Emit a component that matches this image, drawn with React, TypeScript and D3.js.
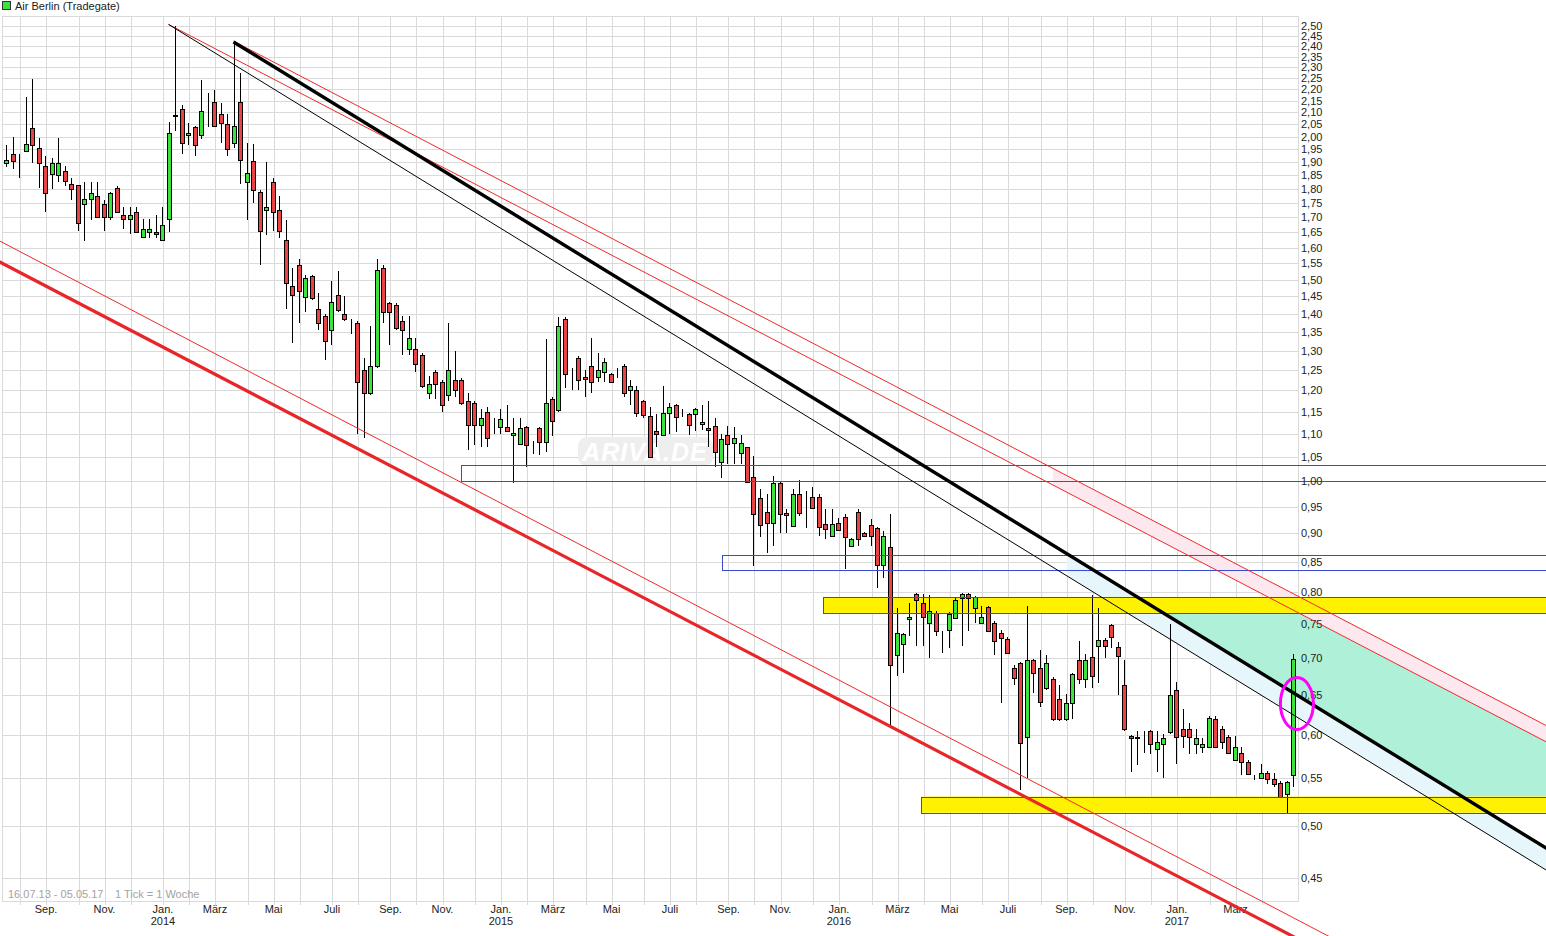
import React from 'react';
import * as d3 from 'd3';

const W = 1546;
const H = 936;

// first weekly candle: week of Monday 15.07.2013 (weekly ticks)
const firstWeekUTC = Date.UTC(2013, 6, 15);
const weekMs = 7 * 864e5;

const open = [
  1.895, 1.93, 1.925, 1.945, 2.035, 1.955, 1.885, 1.855, 1.85, 1.865,
  1.82, 1.815, 1.745, 1.765, 1.775, 1.745, 1.70, 1.805, 1.71, 1.695,
  1.72, 1.635, 1.65, 1.652, 1.625, 1.695, 2.09, 2.115, 2.005, 2.04,
  2.005, 2.145, 2.145, 2.095, 2.05, 1.975, 2.145, 1.825, 1.905, 1.79,
  1.725, 1.825, 1.725, 1.625, 1.48, 1.545, 1.447, 1.51, 1.415, 1.395,
  1.355, 1.455, 1.40, 1.375, 1.375, 1.25, 1.195, 1.26, 1.535, 1.43,
  1.425, 1.38, 1.305, 1.305, 1.29, 1.195, 1.245, 1.22, 1.19, 1.225,
  1.225, 1.175, 1.17, 1.12, 1.15, 1.13, 1.115, 1.115, 1.098, 1.078,
  1.115, 1.078, 1.112, 1.082, 1.18, 1.153, 1.385, 1.245, 1.28, 1.233,
  1.26, 1.233, 1.245, 1.24, 1.245, 1.26, 1.20, 1.20, 1.175, 1.14,
  1.105, 1.098, 1.148, 1.165, 1.145, 1.145, 1.145, 1.122, 1.113, 1.117,
  1.04, 1.098, 1.08, 1.058, 1.07, 1.009, 0.967, 0.94, 0.92, 0.997,
  0.938, 0.913, 0.975, 0.967, 0.969, 0.969, 0.918, 0.895, 0.92, 0.93,
  0.878, 0.94, 0.90, 0.915, 0.91, 0.844, 0.875, 0.705, 0.72, 0.757,
  0.797, 0.782, 0.752, 0.767, 0.732, 0.741, 0.759, 0.79, 0.796, 0.774,
  0.752, 0.776, 0.752, 0.737, 0.728, 0.687, 0.693, 0.598, 0.697, 0.687,
  0.659, 0.672, 0.645, 0.619, 0.64, 0.698, 0.672, 0.702, 0.717, 0.727,
  0.748, 0.716, 0.663, 0.599, 0.596, 0.598, 0.605, 0.583, 0.589, 0.603,
  0.657, 0.607, 0.607, 0.589, 0.585, 0.586, 0.62, 0.607, 0.598, 0.571,
  0.579, 0.568, 0.55, 0.55, 0.556, 0.549, 0.545, 0.533, 0.554,
];

const high = [
  1.965, 2.00, 1.93, 2.165, 2.245, 1.995, 1.925, 1.915, 1.995, 1.885,
  1.84, 1.815, 1.825, 1.825, 1.825, 1.76, 1.79, 1.81, 1.735, 1.735,
  1.735, 1.695, 1.695, 1.71, 1.735, 2.06, 2.50, 2.13, 2.055, 2.045,
  2.24, 2.185, 2.195, 2.14, 2.093, 2.42, 2.275, 1.975, 1.97, 1.795,
  1.90, 1.84, 1.775, 1.69, 1.535, 1.565, 1.515, 1.515, 1.46, 1.40,
  1.495, 1.525, 1.45, 1.385, 1.38, 1.28, 1.365, 1.565, 1.545, 1.435,
  1.43, 1.395, 1.395, 1.335, 1.295, 1.235, 1.25, 1.225, 1.375, 1.30,
  1.23, 1.195, 1.175, 1.155, 1.16, 1.135, 1.155, 1.165, 1.135, 1.135,
  1.118, 1.085, 1.115, 1.33, 1.185, 1.39, 1.39, 1.255, 1.285, 1.25,
  1.335, 1.295, 1.28, 1.243, 1.255, 1.265, 1.225, 1.212, 1.178, 1.16,
  1.145, 1.212, 1.17, 1.168, 1.157, 1.148, 1.158, 1.165, 1.175, 1.135,
  1.10, 1.118, 1.115, 1.098, 1.072, 1.052, 0.985, 0.975, 1.01, 1.0,
  0.946, 0.985, 1.003, 0.98, 0.988, 0.975, 0.946, 0.946, 0.928, 0.935,
  0.891, 0.946, 0.902, 0.926, 0.912, 0.905, 0.935, 0.774, 0.737, 0.783,
  0.799, 0.797, 0.795, 0.77, 0.739, 0.768, 0.792, 0.798, 0.798, 0.793,
  0.777, 0.778, 0.754, 0.741, 0.73, 0.69, 0.695, 0.777, 0.699, 0.712,
  0.705, 0.674, 0.664, 0.652, 0.68, 0.725, 0.706, 0.795, 0.774, 0.729,
  0.75, 0.723, 0.697, 0.60, 0.605, 0.605, 0.606, 0.605, 0.601, 0.75,
  0.668, 0.632, 0.615, 0.607, 0.596, 0.623, 0.623, 0.611, 0.60, 0.599,
  0.585, 0.57, 0.553, 0.566, 0.558, 0.556, 0.547, 0.547, 0.706,
];

const low = [
  1.88, 1.875, 1.84, 1.945, 1.895, 1.805, 1.72, 1.80, 1.825, 1.81,
  1.76, 1.655, 1.62, 1.69, 1.70, 1.655, 1.69, 1.715, 1.66, 1.645,
  1.648, 1.633, 1.63, 1.63, 1.622, 1.65, 2.025, 1.93, 1.965, 1.925,
  1.99, 2.04, 2.04, 1.975, 1.925, 1.955, 1.82, 1.69, 1.75, 1.545,
  1.64, 1.655, 1.63, 1.415, 1.32, 1.375, 1.405, 1.44, 1.355, 1.275,
  1.315, 1.405, 1.38, 1.345, 1.10, 1.09, 1.19, 1.255, 1.375, 1.315,
  1.355, 1.29, 1.29, 1.245, 1.205, 1.18, 1.18, 1.15, 1.175, 1.185,
  1.165, 1.065, 1.075, 1.07, 1.07, 1.10, 1.10, 1.103, 0.997, 1.075,
  1.028, 1.057, 1.053, 1.06, 1.095, 1.15, 1.205, 1.20, 1.20, 1.185,
  1.195, 1.22, 1.22, 1.218, 1.23, 1.185, 1.165, 1.137, 1.135, 1.048,
  1.072, 1.096, 1.10, 1.103, 1.137, 1.098, 1.105, 1.108, 1.07, 1.028,
  1.007, 1.036, 1.036, 1.036, 0.997, 0.843, 0.893, 0.865, 0.878, 0.90,
  0.90, 0.912, 0.932, 0.91, 0.946, 0.896, 0.89, 0.893, 0.905, 0.837,
  0.877, 0.878, 0.894, 0.878, 0.806, 0.822, 0.61, 0.676, 0.68, 0.732,
  0.718, 0.718, 0.701, 0.732, 0.708, 0.714, 0.758, 0.718, 0.739, 0.751,
  0.751, 0.738, 0.705, 0.64, 0.706, 0.664, 0.537, 0.55, 0.653, 0.635,
  0.657, 0.617, 0.617, 0.617, 0.619, 0.665, 0.66, 0.659, 0.666, 0.70,
  0.715, 0.65, 0.605, 0.557, 0.565, 0.578, 0.577, 0.557, 0.55, 0.601,
  0.566, 0.584, 0.577, 0.577, 0.578, 0.585, 0.585, 0.583, 0.577, 0.57,
  0.554, 0.554, 0.548, 0.549, 0.544, 0.54, 0.529, 0.513, 0.54,
];

const close = [
  1.91, 1.905, 1.925, 1.97, 1.965, 1.895, 1.785, 1.895, 1.895, 1.83,
  1.80, 1.68, 1.765, 1.785, 1.70, 1.70, 1.785, 1.72, 1.695, 1.71,
  1.65, 1.66, 1.66, 1.645, 1.675, 2.015, 2.085, 1.975, 2.015, 1.965,
  2.105, 2.145, 2.045, 2.055, 1.95, 2.045, 1.91, 1.86, 1.795, 1.655,
  1.735, 1.72, 1.655, 1.49, 1.455, 1.465, 1.505, 1.445, 1.375, 1.325,
  1.435, 1.41, 1.385, 1.375, 1.22, 1.195, 1.26, 1.53, 1.405, 1.405,
  1.36, 1.355, 1.335, 1.265, 1.21, 1.215, 1.215, 1.165, 1.25, 1.20,
  1.17, 1.12, 1.12, 1.135, 1.09, 1.13, 1.132, 1.105, 1.102, 1.112,
  1.075, 1.078, 1.082, 1.17, 1.128, 1.365, 1.24, 1.245, 1.225, 1.229,
  1.22, 1.25, 1.27, 1.22, 1.245, 1.193, 1.212, 1.148, 1.143, 1.05,
  1.10, 1.148, 1.16, 1.137, 1.145, 1.12, 1.155, 1.127, 1.108, 1.06,
  1.088, 1.078, 1.09, 1.08, 0.999, 0.935, 0.915, 0.92, 0.997, 0.935,
  0.934, 0.975, 0.938, 0.967, 0.948, 0.911, 0.908, 0.917, 0.906, 0.893,
  0.89, 0.89, 0.895, 0.896, 0.844, 0.896, 0.69, 0.737, 0.735, 0.76,
  0.787, 0.76, 0.77, 0.739, 0.732, 0.766, 0.787, 0.796, 0.79, 0.792,
  0.76, 0.739, 0.725, 0.729, 0.708, 0.673, 0.59, 0.698, 0.68, 0.641,
  0.694, 0.619, 0.619, 0.64, 0.678, 0.672, 0.698, 0.675, 0.727, 0.717,
  0.73, 0.703, 0.607, 0.596, 0.598, 0.598, 0.589, 0.592, 0.596, 0.65,
  0.598, 0.599, 0.598, 0.596, 0.589, 0.621, 0.586, 0.592, 0.578, 0.586,
  0.568, 0.555, 0.55, 0.556, 0.549, 0.544, 0.53, 0.546, 0.699,
];

const yTickValues = [
  0.45, 0.5, 0.55, 0.6, 0.65, 0.7, 0.75, 0.8, 0.85, 0.9, 0.95, 1.0,
  1.05, 1.1, 1.15, 1.2, 1.25, 1.3, 1.35, 1.4, 1.45, 1.5, 1.55, 1.6,
  1.65, 1.7, 1.75, 1.8, 1.85, 1.9, 1.95, 2.0, 2.05, 2.1, 2.15, 2.2,
  2.25, 2.3, 2.35, 2.4, 2.45, 2.5,
];

const labelMonths = [
  '2013-09', '2013-11', '2014-01', '2014-03', '2014-05', '2014-07', '2014-09', '2014-11',
  '2015-01', '2015-03', '2015-05', '2015-07', '2015-09', '2015-11',
  '2016-01', '2016-03', '2016-05', '2016-07', '2016-09', '2016-11',
  '2017-01', '2017-03',
];
const labelTexts = [
  'Sep.', 'Nov.', 'Jan.', 'März', 'Mai', 'Juli', 'Sep.', 'Nov.',
  'Jan.', 'März', 'Mai', 'Juli', 'Sep.', 'Nov.',
  'Jan.', 'März', 'Mai', 'Juli', 'Sep.', 'Nov.',
  'Jan.', 'März',
];
const labelYears = [
  '', '', '2014', '', '', '', '', '',
  '2015', '', '', '', '', '',
  '2016', '', '', '', '', '',
  '2017', '',
];

// horizontal zones: start week index, low price, high price
const zoneStart = [70, 110.15, 125.7, 140.8];
const zoneLow = [1.0, 0.836, 0.767, 0.513];
const zoneHigh = [1.032, 0.862, 0.792, 0.530];
const zoneFilled = [false, false, true, true];

// trend lines: two anchors each (week index, price)
const trendNames = ['redThick', 'redThin', 'redA', 'redB', 'blackThick', 'blackThin'];
const trendI1 = [0, 0, 35, 25, 35, 25];
const trendP1 = [1.544, 1.6105, 2.424, 2.507, 2.42, 2.507];
const trendI2 = [190, 190, 236.92, 236.92, 236.92, 236.92];
const trendP2 = [0.4224, 0.4388, 0.6115, 0.5918, 0.4779, 0.4572];
const trendExtendLeft = [true, true, false, false, false, false];

const pinkStartIdx = 161.1;
const blueStartIdx = 163.2;
const markerIdx = 198.6;
const markerPrice = 0.639;

const FONT = '"Liberation Sans", Arial, Helvetica, sans-serif';

export default function App() {
  const x = d3.scaleLinear().domain([0, 198]).range([6, 1293]);
  const y = d3.scaleLog().domain([0.5, 2.5]).range([825.5, 25.8]);

  const plotL = 2, plotR = 1298, plotT = 16, plotB = 901;

  const idxOfDate = (t: number) => Math.floor((t - firstWeekUTC) / weekMs);
  const months = d3.utcMonth.range(new Date(Date.UTC(2013, 7, 1)), new Date(Date.UTC(2017, 4, 1)));

  const lines = trendNames.map((n, k) => {
    const x1 = x(trendI1[k]), y1 = y(trendP1[k]);
    const x2 = x(trendI2[k]), y2 = y(trendP2[k]);
    const m = (y2 - y1) / (x2 - x1);
    const yAt = (X: number) => y1 + m * (X - x1);
    const xAt = (Y: number) => x1 + (Y - y1) / m;
    const xs = trendExtendLeft[k] ? -5 : x1;
    return { n, x1, y1, m, yAt, xAt, xs };
  });
  const L: any = {};
  lines.forEach((l) => (L[l.n] = l));

  const xe = W + 2;
  // pink band between redA and redB
  const px = x(pinkStartIdx);
  const pinkPts = [[px, L.redA.yAt(px)], [xe, L.redA.yAt(xe)], [xe, L.redB.yAt(xe)], [px, L.redB.yAt(px)]];
  const bx = x(blueStartIdx);
  const bluePts = [[bx, L.blackThick.yAt(bx)], [xe, L.blackThick.yAt(xe)], [xe, L.blackThin.yAt(xe)], [bx, L.blackThin.yAt(bx)]];
  const yTopZone = y(zoneLow[2]);
  const yLowZone = y(zoneHigh[3]);
  const greenPts = [
    [L.blackThick.xAt(yTopZone), yTopZone],
    [L.redB.xAt(yTopZone), yTopZone],
    [xe, L.redB.yAt(xe)],
    [xe, yLowZone],
    [L.blackThick.xAt(yLowZone), yLowZone],
  ];
  const poly = (pts: number[][]) => pts.map((p) => p.join(',')).join(' ');

  const gridColor = '#dadada';
  const green = '#3de33d';
  const red = '#ea4343';

  const candles = open.map((o, i) => {
    const c = close[i];
    const cx = Math.round(x(i));
    const top = y(Math.max(o, c));
    const bot = y(Math.min(o, c));
    const fill = c > o ? green : c < o ? red : 'none';
    return (
      <g key={i}>
        <line x1={cx + 0.5} x2={cx + 0.5} y1={y(high[i])} y2={y(low[i])} stroke="#000" strokeWidth={1} />
        <rect
          x={cx - 2 + 0.5}
          y={Math.round(top) + 0.5}
          width={4}
          height={Math.max(0, Math.round(bot) - Math.round(top))}
          fill={fill}
          stroke="#000"
          strokeWidth={1}
        />
      </g>
    );
  });

  const lineStyle: any = {
    redThick: { stroke: '#e8262a', w: 3.2 },
    redThin: { stroke: '#ee2a2a', w: 1 },
    redA: { stroke: '#ee2a2a', w: 1 },
    redB: { stroke: '#ee2a2a', w: 1 },
    blackThick: { stroke: '#000', w: 3.4 },
    blackThin: { stroke: '#000', w: 1 },
  };

  return (
    <svg
      width={W}
      height={H}
      style={{ position: 'absolute', left: 0, top: 0, background: '#fff', fontFamily: FONT }}
    >
      <rect x={0} y={0} width={W} height={H} fill="#fff" />
      {/* title */}
      <rect x={2.5} y={1.5} width={8} height={8} fill={green} stroke="#333" strokeWidth={1} />
      <text x={15} y={10} fontSize={11} fill="#222">Air Berlin (Tradegate)</text>

      {/* grid */}
      <g shapeRendering="crispEdges">
        {yTickValues.map((t) => (
          <line key={'h' + t} x1={plotL} x2={plotR} y1={Math.round(y(t)) + 0.5} y2={Math.round(y(t)) + 0.5} stroke={gridColor} />
        ))}
        {months.map((d) => {
          const xi = Math.round(x(idxOfDate(+d))) + 1.5;
          return <line key={'v' + +d} x1={xi} x2={xi} y1={plotT} y2={plotB + 4} stroke={gridColor} />;
        })}
        <rect x={plotL + 0.5} y={plotT + 0.5} width={plotR - plotL} height={plotB - plotT} fill="none" stroke={gridColor} />
      </g>

      {/* watermark */}
      <rect x={578} y={437} width={135} height={29} rx={9} fill="#eeeeee" />
      <text x={645} y={461} textAnchor="middle" fontSize={25} fontWeight="bold" fontStyle="italic" fill="#ffffff" letterSpacing={1}>
        ARIVA.DE
      </text>

      {/* channel fills */}
      <polygon points={poly(pinkPts)} fill="#fde8ef" />
      <polygon points={poly(bluePts)} fill="#e6f6fb" />
      <polygon points={poly(greenPts)} fill="#aef0d8" />

      {/* filled zones */}
      {zoneStart.map((s, k) =>
        zoneFilled[k] ? (
          <rect key={'zf' + k} x={x(s)} y={y(zoneHigh[k])} width={xe - x(s)} height={y(zoneLow[k]) - y(zoneHigh[k])} fill="#fff200" />
        ) : null
      )}

      {/* candles */}
      <g shapeRendering="crispEdges">{candles}</g>

      {/* zone outlines */}
      <g shapeRendering="crispEdges">
        {zoneStart.map((s, k) => (
          <rect
            key={'zo' + k}
            x={Math.round(x(s)) + 0.5}
            y={Math.round(y(zoneHigh[k])) + 0.5}
            width={xe - x(s)}
            height={Math.round(y(zoneLow[k])) - Math.round(y(zoneHigh[k]))}
            fill="none"
            stroke="#3a4bd2"
            strokeWidth={1}
          />
        ))}
      </g>

      {/* axis labels */}
      {yTickValues.map((t) => (
        <text key={'yl' + t} x={1301} y={y(t) + 4} fontSize={11} fill="#222">
          {t.toFixed(2).replace('.', ',')}
        </text>
      ))}
      {labelMonths.map((m, k) => {
        const [yy, mm] = m.split('-').map(Number);
        const xi = x(idxOfDate(Date.UTC(yy, mm - 1, 1))) + 1;
        return (
          <g key={'ml' + k}>
            <text x={xi} y={913} textAnchor="middle" fontSize={11} fill="#222">{labelTexts[k]}</text>
            {labelYears[k] ? (
              <text x={xi} y={925} textAnchor="middle" fontSize={11} fill="#222">{labelYears[k]}</text>
            ) : null}
          </g>
        );
      })}
      <text x={8} y={898} fontSize={11} fill="#a3a3a3">16.07.13 - 05.05.17</text>
      <text x={115} y={898} fontSize={11} fill="#a3a3a3">1 Tick = 1 Woche</text>

      {/* trend lines */}
      {lines.map((l) => (
        <line
          key={l.n}
          x1={l.xs}
          y1={l.yAt(l.xs)}
          x2={xe}
          y2={l.yAt(xe)}
          stroke={lineStyle[l.n].stroke}
          strokeWidth={lineStyle[l.n].w}
        />
      ))}

      {/* marker */}
      <ellipse cx={x(markerIdx)} cy={y(markerPrice)} rx={16.5} ry={26} fill="none" stroke="#ff00ff" strokeWidth={3} />
    </svg>
  );
}
